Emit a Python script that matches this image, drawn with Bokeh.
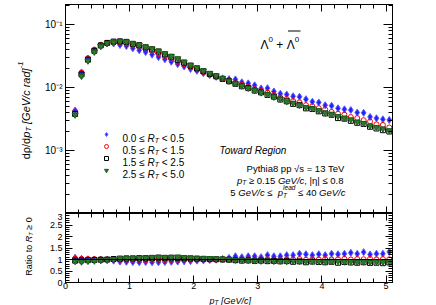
import math
from bokeh.plotting import figure
from bokeh.models import (Range1d, LogAxis, LinearAxis, FixedTicker, Label, Span,
                          ColumnDataSource, Legend, LegendItem, BoxAnnotation)
from bokeh.layouts import column, row
from bokeh.embed import file_html
from bokeh.resources import INLINE
from bokeh.core.properties import value

# ---------------- data ----------------
pt = [0.15, 0.25, 0.35, 0.45, 0.55, 0.65, 0.75, 0.85, 0.95, 1.05,
      1.15, 1.25, 1.35, 1.45, 1.55, 1.65, 1.75, 1.85, 1.95, 2.05,
      2.15, 2.25, 2.35, 2.45, 2.55, 2.65, 2.75, 2.85, 2.95, 3.05,
      3.15, 3.25, 3.35, 3.45, 3.55, 3.65, 3.75, 3.85, 3.95, 4.05,
      4.15, 4.25, 4.35, 4.45, 4.55, 4.65, 4.75, 4.85, 4.95, 5.05]

# inclusive (R_T >= 0) spectrum, the reference of the ratio panel
incl = [0.0040, 0.0168, 0.0285, 0.0390, 0.0470, 0.0510, 0.0525, 0.0520, 0.0505, 0.0470,
        0.0443, 0.0410, 0.0378, 0.0345, 0.0315, 0.0285, 0.0258, 0.0234, 0.0212, 0.0194,
        0.0176, 0.0161, 0.0149, 0.0137, 0.0127, 0.0118, 0.0110, 0.0102, 0.0095, 0.0088,
        0.0082, 0.0076, 0.0070, 0.0065, 0.0061, 0.0057, 0.0053, 0.0050, 0.0047, 0.0044,
        0.0041, 0.0038, 0.0036, 0.0034, 0.0032, 0.0030, 0.0028, 0.0026, 0.0025, 0.0023]

ratio_rt0 = [1.08, 1.03, 1.01, 1.00, 0.99, 0.98, 0.95, 0.91, 0.90, 0.89,
             0.88, 0.89, 0.88, 0.88, 0.89, 0.90, 0.91, 0.92, 0.93, 0.95,
             0.96, 0.98, 0.99, 1.02, 1.07, 1.14, 1.10, 1.14, 1.14, 1.10,
             1.19, 1.14, 1.14, 1.19, 1.19, 1.25, 1.23, 1.19, 1.23, 1.19,
             1.25, 1.23, 1.25, 1.29, 1.25, 1.32, 1.22, 1.25, 1.25, 1.33]
ratio_rt1 = [1.04, 1.03, 1.02, 1.02, 1.01, 1.00, 1.00, 0.99, 0.99, 0.99,
             0.99, 0.98, 0.99, 0.99, 0.98, 0.99, 0.99, 1.00, 0.99, 1.00,
             1.00, 0.99, 1.00, 1.00, 1.00, 0.99, 1.00, 1.01, 0.99, 1.00,
             1.01, 1.00, 0.99, 1.01, 1.00, 1.02, 0.99, 1.01, 1.00, 1.02,
             1.00, 1.01, 1.03, 1.00, 1.02, 1.01, 1.03, 1.00, 1.02, 1.01]
ratio_rt2 = [0.95, 0.96, 0.97, 0.98, 0.99, 1.00, 1.02, 1.04, 1.05, 1.05,
             1.06, 1.06, 1.07, 1.08, 1.07, 1.08, 1.07, 1.06, 1.05, 1.04,
             1.03, 1.02, 1.01, 1.00, 0.99, 0.97, 0.95, 0.96, 0.94, 0.95,
             0.93, 0.94, 0.92, 0.93, 0.90, 0.92, 0.88, 0.91, 0.89, 0.88,
             0.90, 0.86, 0.89, 0.87, 0.86, 0.88, 0.85, 0.86, 0.84, 0.87]
ratio_rt3 = [0.92, 0.90, 0.93, 0.94, 0.96, 0.98, 1.00, 1.04, 1.05, 1.06,
             1.07, 1.08, 1.09, 1.11, 1.10, 1.10, 1.12, 1.09, 1.07, 1.06,
             1.05, 1.05, 1.04, 1.03, 1.00, 0.98, 0.97, 0.96, 0.95, 0.94,
             0.95, 0.93, 0.94, 0.92, 0.93, 0.92, 0.91, 0.93, 0.92, 0.90,
             0.91, 0.92, 0.90, 0.91, 0.89, 0.90, 0.88, 0.90, 0.89, 0.90]

legend_lo = ["0.0", "0.5", "1.5", "2.5"]
legend_hi = ["0.5", "1.5", "2.5", "5.0"]
ratios = [ratio_rt0, ratio_rt1, ratio_rt2, ratio_rt3]

x_major = [0, 1, 2, 3, 4, 5]
log_major = [1e-4, 1e-3, 1e-2, 1e-1]
log_labels = ["", "10⁻³", "10⁻²", "10⁻¹"]
ratio_major = [0, 0.5, 1, 1.5, 2, 2.5, 3]

# ---------------- geometry (page pixels) ----------------
FONT = "Liberation Sans"
SW = 34                    # left strip holding the y titles
W = 436 - SW               # width of the two panels
FL, FR = 65 - SW, 44
X_LO, X_HI = 0.0, 5.1
TOP_H, TOP_FT = 213, 4
Y_LOG_HI, Y_LOG_LO = -0.6825, -4.0
BOT_FH, BOT_BB = 69, 11
BOT_H = BOT_FH + BOT_BB
STRIP_H = 305 - TOP_H - BOT_H
R_LO, R_HI = 0.0, 3.0

AW = {' ': 278, '.': 278, ',': 278, '/': 278, '[': 278, ']': 278, '|': 260, '=': 584,
      '+': 584, '<': 584, '≤': 549, '≥': 549, '√': 549, 'ρ': 573, 'η': 556, 'Λ': 667,
      '-': 333, 'a': 556, 'c': 500, 'd': 556, 'e': 556, 'h': 556, 'i': 222, 'l': 222,
      'n': 556, 'o': 556, 'p': 556, 'r': 333, 's': 500, 't': 278, 'y': 500,
      'G': 778, 'V': 667, 'T': 611, 'R': 722, 'P': 667}


def tw(s, size):
    return sum(AW.get(c, 556) for c in s) * size / 1000.0


def rich(fig, x0, y0, parts, align="left", vertical=False, ox=0, oy=0):
    """Text made of pieces, given in page pixels (x right, y down); ox/oy is the
    page position of fig's canvas. parts: (text, size, style, shift_px, advance)"""
    total = 0.0
    for t, s, st, d, adv in parts:
        if adv:
            total += tw(t, s)
    if align == "right":
        pos = -total
    elif align == "center":
        pos = -total / 2
    else:
        pos = 0.0
    for t, s, st, d, adv in parts:
        lead = tw(t[:len(t) - len(t.lstrip(' '))], s)
        txt = t.strip(' ')
        if vertical:
            X, Y, ang = x0 + d, y0 - pos - lead, math.pi / 2
        else:
            X, Y, ang = x0 + pos + lead, y0 + d, 0.0
        if txt:
            fig.add_layout(Label(x=X - ox, y=Y - oy, x_units="canvas", y_units="canvas",
                                 text=txt, angle=ang, angle_units="rad",
                                 text_font=FONT, text_font_size=f"{s}px",
                                 text_font_style=st, text_color="black",
                                 text_baseline="alphabetic", text_align="left"))
        if adv:
            pos += tw(t, s)


def style_axis(ax, labels=True, size="9px"):
    ax.major_tick_in = 7
    ax.major_tick_out = 0
    ax.minor_tick_in = 4
    ax.minor_tick_out = 0
    ax.axis_line_color = "black"
    ax.major_tick_line_color = "black"
    ax.minor_tick_line_color = "black"
    ax.major_label_text_font = FONT
    ax.major_label_text_color = "black"
    if labels:
        ax.major_label_text_font_size = size
        ax.major_label_standoff = 3
    else:
        ax.major_label_text_font_size = "0px"
        ax.major_label_standoff = 0
        ax.major_label_overrides = {t: "" for t in ax.ticker.ticks}


def blank(width, height):
    f = figure(width=width, height=height, x_range=Range1d(0, width),
               y_range=Range1d(height, 0), x_axis_location=None, y_axis_location=None,
               output_backend="svg", toolbar_location=None, min_border=0,
               min_border_left=0, min_border_right=0, min_border_top=0,
               min_border_bottom=0)
    f.grid.visible = False
    f.outline_line_color = None
    f.background_fill_color = "white"
    f.border_fill_color = "white"
    return f


xt = FixedTicker(ticks=x_major,
                 minor_ticks=[round(0.2 * i, 1) for i in range(26) if i % 5])
lt = FixedTicker(ticks=log_major,
                 minor_ticks=[m * 10.0 ** e for e in range(-4, 0) for m in range(2, 10)])
rt = FixedTicker(ticks=ratio_major,
                 minor_ticks=[round(0.1 * i, 1) for i in range(31) if i % 5])

# ---------------- top panel ----------------
p1 = figure(width=W, height=TOP_H, x_range=Range1d(X_LO, X_HI),
            y_range=Range1d(10 ** Y_LOG_LO, 10 ** Y_LOG_HI), y_axis_type="log",
            output_backend="svg", toolbar_location=None,
            min_border_left=FL, min_border_right=FR, min_border_top=TOP_FT,
            min_border_bottom=0)
p1.grid.visible = False
p1.outline_line_color = "black"
p1.background_fill_color = "white"
p1.border_fill_color = "white"

p1.yaxis[0].ticker = lt
p1.yaxis[0].major_label_overrides = dict(zip(log_major, log_labels))
style_axis(p1.yaxis[0], True, "10px")
p1.yaxis[0].major_tick_in = 9
p1.xaxis[0].ticker = xt
style_axis(p1.xaxis[0], False)
ra = LogAxis(ticker=lt)
style_axis(ra, False)
ra.major_tick_in = 9
p1.add_layout(ra, "right")
aa = LinearAxis(ticker=xt)
style_axis(aa, False)
p1.add_layout(aa, "above")

# ---------------- ratio panel ----------------
p2 = figure(width=W, height=BOT_H, x_range=p1.x_range, y_range=Range1d(R_LO, R_HI),
            output_backend="svg", toolbar_location=None,
            min_border_left=FL, min_border_right=FR, min_border_top=0,
            min_border_bottom=BOT_BB)
p2.grid.visible = False
p2.outline_line_color = "black"
p2.background_fill_color = "white"
p2.border_fill_color = "white"
p2.yaxis[0].ticker = rt
style_axis(p2.yaxis[0], True, "9px")
p2.xaxis[0].ticker = xt
style_axis(p2.xaxis[0], True, "9px")
p2.xaxis[0].major_label_standoff = 0
ra2 = LinearAxis(ticker=rt)
style_axis(ra2, False)
p2.add_layout(ra2, "right")
aa2 = LinearAxis(ticker=xt)
style_axis(aa2, False)
p2.add_layout(aa2, "above")
p2.add_layout(Span(location=1, dimension="width", line_color="black", line_width=1))

# ---------------- series ----------------
styles = [
    dict(marker="diamond", size=7, fill_color="#1f1fff", line_color="#5a5aff", line_width=1),
    dict(marker="circle", size=5, fill_color=None, line_color="#ff0000", line_width=1),
    dict(marker="square", size=5, fill_color=None, line_color="#000000", line_width=1),
    dict(marker="inverted_triangle", size=6, fill_color="#2a7d2a", line_color="#1b5e1b",
         line_width=1),
]
renderers = []
for rat, sty in zip(ratios, styles):
    spec = [a * b for a, b in zip(incl, rat)]
    src = ColumnDataSource(dict(pt=pt, y=spec, r=rat))
    r1 = p1.scatter("pt", "y", source=src, **sty)
    p2.scatter("pt", "r", source=src, **sty)
    renderers.append(r1)

leg = Legend(items=[LegendItem(label=value(" "), renderers=[r]) for r in renderers],
             location=(36, 38), glyph_width=10, glyph_height=10, label_height=10,
             label_width=0, label_standoff=0, spacing=2, padding=0, margin=0,
             border_line_alpha=0, background_fill_alpha=0, label_text_font_size="1px")
p1.add_layout(leg)

# legend texts
for i, (lo, hi) in enumerate(zip(legend_lo, legend_hi)):
    base = 137.5 + i * 12
    rich(p1, 122, base, [
        (f"{lo} ≤ ", 10, "normal", 0, True),
        ("R", 10, "italic", 0, True),
        ("T", 7, "italic", 2.5, True),
        (f" < {hi}", 10, "normal", 0, True),
    ], ox=SW)

# particle label
rich(p1, 260, 44, [
    ("Λ", 12, "normal", 0, True),
    ("0", 8, "normal", -5, True),
    (" + ", 12, "normal", 0, True),
    ("Λ", 12, "normal", 0, True),
    ("0", 8, "normal", -5, True),
], ox=SW)
p1.add_layout(BoxAnnotation(left=287.5 - SW, right=300 - SW, top=30, bottom=31,
                            left_units="canvas", right_units="canvas",
                            top_units="canvas", bottom_units="canvas",
                            fill_color="black", fill_alpha=1, line_alpha=0))

# region / generator texts
rich(p1, 219, 149.5, [("Toward Region", 10, "italic", 0, True)], ox=SW)
rich(p1, 345, 167.5, [("Pythia8 pp √s = 13 TeV", 9.5, "normal", 0, True)],
     align="right", ox=SW)
rich(p1, 343, 179.5, [
    ("p", 9.5, "italic", 0, True),
    ("T", 6.5, "italic", 2.5, True),
    (" ≥ 0.15 ", 9.5, "normal", 0, True),
    ("GeV/c", 9.5, "italic", 0, True),
    (", |η| ≤ 0.8", 9.5, "normal", 0, True),
], align="right", ox=SW)
rich(p1, 345, 192, [
    ("5 ", 9.5, "normal", 0, True),
    ("GeV/c", 9.5, "italic", 0, True),
    (" ≤  ", 9.5, "normal", 0, True),
    ("p", 9.5, "italic", 0, True),
    ("T", 6.5, "italic", 2.5, False),
    ("lead", 6.5, "italic", -5, True),
    (" ≤ 40 ", 9.5, "normal", 0, True),
    ("GeV/c", 9.5, "italic", 0, True),
], align="right", ox=SW)

# ---------------- strips for the axis titles ----------------
left = blank(SW, 305)
rich(left, 25, 110, [
    ("dρ/d", 11, "normal", 0, True),
    ("p", 11, "italic", 0, True),
    ("T", 7.5, "italic", 3, True),
    (" [GeV/c rad]", 11, "italic", 0, True),
    ("-1", 7.5, "italic", -5, True),
], align="center", vertical=True)
rich(left, 28, 246, [
    ("Ratio to ", 9, "normal", 0, True),
    ("R", 9, "italic", 0, True),
    ("T", 6, "italic", 2, True),
    (" ≥ 0", 9, "normal", 0, True),
], align="center", vertical=True)

bottom = blank(W, STRIP_H)
rich(bottom, 209, 300, [
    ("p", 9, "italic", 0, True),
    ("T", 6.5, "italic", 2, True),
    (" [GeV/c]", 9, "italic", 0, True),
], ox=SW, oy=TOP_H + BOT_H)

layout = row(left, column(p1, p2, bottom))
open("out.html", "w").write(file_html(layout, INLINE))
